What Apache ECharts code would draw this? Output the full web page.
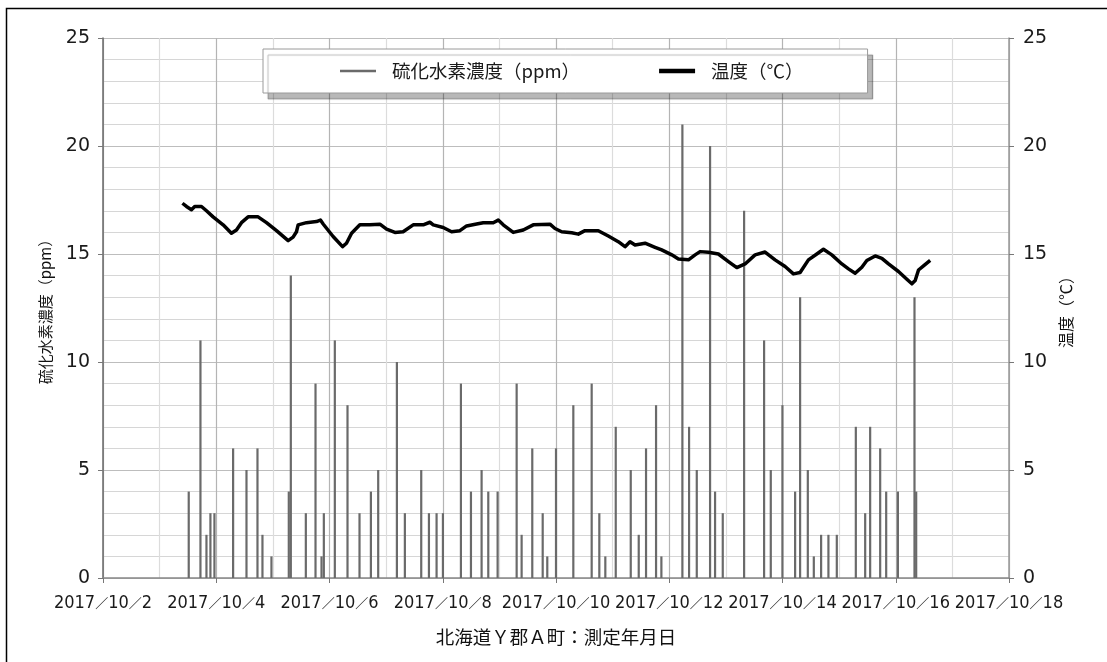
<!DOCTYPE html>
<html>
<head>
<meta charset="utf-8">
<script src="https://cdn.jsdelivr.net/npm/echarts@6/dist/echarts.min.js"></script>
<style>
  html, body { margin: 0; padding: 0; background: #fff; }
  #chart { width: 1107px; height: 662px; }
</style>
</head>
<body>
<div id="chart"></div>
<script>
// ---- Data (x = day of October 2017, fractional) ----
const xTickDays = [2, 4, 6, 8, 10, 12, 14, 16, 18];
const xLabelPrefix = ['2017', '10'];
const yTicks = [0, 5, 10, 15, 20, 25];

const seriesNames = ['硫化水素濃度（ppm）', '温度（℃）'];
const xAxisTitle = '北海道Ｙ郡Ａ町：測定年月日';

// Hydrogen sulfide concentration readings (non-zero spikes)
const h2sDays = [3.514,3.721,3.827,3.897,3.968,4.298,4.534,4.728,4.816,4.975,
  5.281,5.317,5.582,5.753,5.859,5.900,6.094,6.318,6.530,6.731,
  6.860,7.190,7.331,7.620,7.756,7.891,8.003,8.321,8.498,8.686,
  8.804,8.969,9.305,9.393,9.581,9.765,9.846,10.000,10.306,10.630,
  10.765,10.871,11.055,11.320,11.461,11.590,11.767,11.861,12.232,12.350,
  12.486,12.721,12.809,12.945,13.322,13.675,13.793,13.999,14.223,14.311,
  14.447,14.553,14.682,14.811,14.959,15.295,15.460,15.548,15.725,15.831,
  16.038,16.331,16.361];
const h2sValues = [4,11,2,3,3,6,5,6,2,1,
  4,14,3,9,1,3,11,8,3,4,
  5,10,3,5,3,3,3,9,4,5,
  4,4,9,2,6,3,1,6,8,9,
  3,1,7,5,2,6,8,1,21,7,
  5,20,4,3,17,11,5,8,4,13,
  5,1,2,2,2,7,3,7,6,4,
  4,13,4];

// Temperature readings
const tempDays = [3.403,3.474,3.562,3.620,3.739,3.827,3.944,4.121,4.268,4.357,
  4.445,4.563,4.739,4.887,5.064,5.270,5.357,5.417,5.446,5.593,
  5.770,5.840,5.888,6.064,6.230,6.300,6.390,6.536,6.713,6.890,
  7.008,7.155,7.300,7.478,7.655,7.773,7.832,8.008,8.156,8.303,
  8.421,8.598,8.715,8.892,8.980,9.068,9.245,9.422,9.598,9.893,
  9.982,10.100,10.277,10.394,10.512,10.747,10.924,11.100,11.219,11.307,
  11.396,11.573,11.749,11.867,12.044,12.162,12.339,12.456,12.544,12.692,
  12.868,13.045,13.193,13.339,13.516,13.692,13.869,14.046,14.193,14.311,
  14.458,14.606,14.723,14.871,15.048,15.165,15.283,15.401,15.489,15.637,
  15.755,15.872,16.048,16.196,16.285,16.343,16.402,16.490,16.608];
const tempValues = [17.35,17.2,17.05,17.2,17.2,17.0,16.72,16.35,15.96,16.11,
  16.45,16.72,16.72,16.45,16.08,15.62,15.78,16.03,16.35,16.45,
  16.5,16.57,16.39,15.81,15.34,15.5,15.96,16.35,16.35,16.38,
  16.15,16.0,16.03,16.35,16.35,16.47,16.35,16.23,16.03,16.08,
  16.3,16.39,16.45,16.45,16.57,16.35,16.0,16.11,16.35,16.38,
  16.18,16.03,15.98,15.92,16.08,16.08,15.83,15.57,15.34,15.57,
  15.42,15.5,15.31,15.19,14.96,14.77,14.73,14.96,15.11,15.08,
  15.0,14.65,14.37,14.54,14.96,15.09,14.73,14.42,14.08,14.14,
  14.73,15.0,15.22,14.96,14.54,14.31,14.11,14.39,14.7,14.91,
  14.8,14.54,14.19,13.83,13.62,13.77,14.26,14.45,14.7];

// ---- Build chart ----
const zip = (a, b) => a.map((v, i) => [v, b[i]]);
const numFont = "'DejaVu Sans', sans-serif";
const condFont = "'DejaVu Sans Condensed', 'DejaVu Sans', sans-serif";
const cjk = "'Noto Sans CJK JP', sans-serif";

const chart = echarts.init(document.getElementById('chart'), null, { renderer: 'canvas' });

const yAxisCommon = {
  type: 'value',
  min: yTicks[0],
  max: yTicks[yTicks.length - 1],
  interval: yTicks[1] - yTicks[0],
  nameLocation: 'middle',
  nameRotate: 90,
  nameTextStyle: { fontSize: 15, color: '#111', fontFamily: cjk },
  axisTick: { show: true, inside: false, length: 5, lineStyle: { color: '#777' } },
  axisLabel: { fontSize: 19, color: '#1a1a1a', fontFamily: numFont, margin: 13 }
};

chart.setOption({
  animation: false,
  backgroundColor: '#fff',
  grid: { left: 103, right: 98, top: 38, bottom: 84, containLabel: false },
  graphic: [{
    type: 'rect',
    shape: { x: 6.5, y: 8.5, width: 1200, height: 800 },
    style: { fill: 'none', stroke: '#000', lineWidth: 1.5 },
    silent: true, z: 0
  }],
  legend: {
    left: 263, top: 49,
    padding: [11, 64, 11, 77],
    itemGap: 79,
    itemWidth: 36, itemHeight: 14,
    backgroundColor: '#fff',
    borderColor: '#9a9a9a', borderWidth: 1,
    shadowColor: 'rgba(0,0,0,0.28)', shadowOffsetX: 5, shadowOffsetY: 6, shadowBlur: 1,
    textStyle: { fontSize: 18.5, lineHeight: 22, color: '#1a1a1a', fontFamily: cjk, padding: [0, 0, 0, 11] },
    data: [
      { name: seriesNames[0], icon: 'path://M0,0H36V2.5H0Z' },
      { name: seriesNames[1], icon: 'path://M0,0H33V4H0Z' }
    ]
  },
  xAxis: {
    type: 'value',
    min: xTickDays[0],
    max: xTickDays[xTickDays.length - 1],
    interval: xTickDays[1] - xTickDays[0],
    name: xAxisTitle,
    nameLocation: 'middle',
    nameGap: 50,
    nameTextStyle: { fontSize: 18.5, color: '#111', fontFamily: cjk },
    axisLine: { show: true, onZero: false, lineStyle: { color: '#888', width: 1.5 } },
    axisTick: { show: true, inside: false, length: 5, lineStyle: { color: '#777' } },
    axisLabel: {
      margin: 16,
      showMinLabel: true, showMaxLabel: true, hideOverlap: false,
      formatter: v => '{d|' + xLabelPrefix[0] + '}{s|／}{d|' + xLabelPrefix[1] + '}{s|／}{d|' + v + '}',
      rich: {
        d: { fontSize: 18, color: '#1a1a1a', fontFamily: condFont, verticalAlign: 'middle' },
        s: { fontSize: 13, color: '#1a1a1a', fontFamily: cjk, verticalAlign: 'middle' }
      }
    },
    splitLine: { show: true, lineStyle: { color: '#b4b4b4', width: 1.2 } },
    minorTick: { show: false, splitNumber: 2 },
    minorSplitLine: { show: true, lineStyle: { color: '#dcdcdc', width: 1.2 } }
  },
  yAxis: [
    Object.assign({}, yAxisCommon, {
      position: 'left',
      name: seriesNames[0],
      nameGap: 50,
      axisLine: { show: true, lineStyle: { color: '#6a6a6a', width: 1.5 } },
      splitLine: { show: true, lineStyle: { color: '#bdbdbd', width: 1.2 } },
      minorTick: { show: false, splitNumber: 5 },
      minorSplitLine: { show: true, lineStyle: { color: '#d6d6d6', width: 1.2 } }
    }),
    Object.assign({}, yAxisCommon, {
      position: 'right',
      name: seriesNames[1],
      nameGap: 47,
      nameTextStyle: { fontSize: 16, color: '#111', fontFamily: cjk },
      axisLine: { show: true, lineStyle: { color: '#9a9a9a', width: 1.5 } },
      axisLabel: Object.assign({}, yAxisCommon.axisLabel, { margin: 14 }),
      splitLine: { show: false }
    })
  ],
  series: [
    {
      name: seriesNames[0],
      type: 'bar',
      yAxisIndex: 0,
      barWidth: 2.2,
      color: '#6a6a6a',
      itemStyle: { color: '#6a6a6a' },
      data: zip(h2sDays, h2sValues),
      z: 2
    },
    {
      name: seriesNames[1],
      type: 'line',
      yAxisIndex: 1,
      showSymbol: false,
      symbol: 'none',
      color: '#000',
      lineStyle: { color: '#000', width: 3.5, join: 'round' },
      data: zip(tempDays, tempValues),
      z: 3
    }
  ]
});
</script>
</body>
</html>
